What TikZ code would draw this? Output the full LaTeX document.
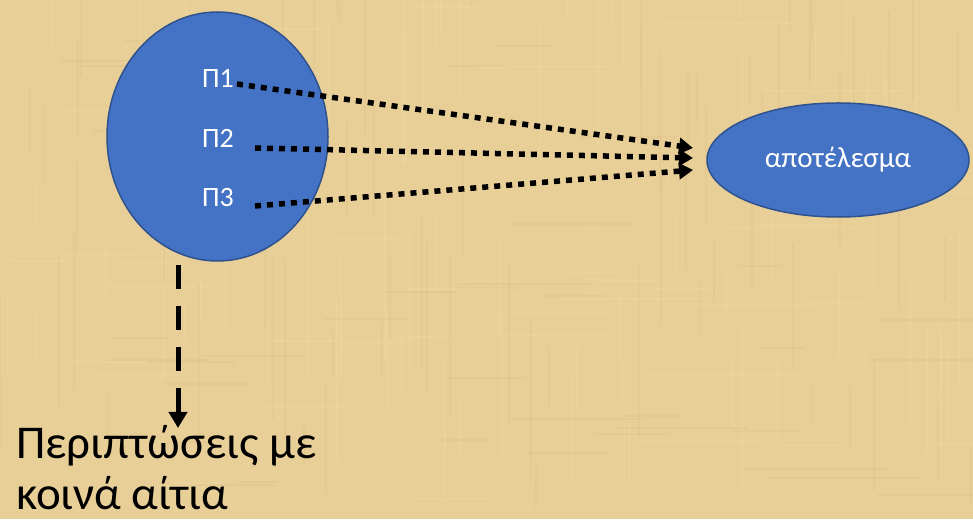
\documentclass[tikz,border=0pt]{standalone}
\usepackage{fontspec}
\setmainfont{Carlito}
\usetikzlibrary{arrows.meta,shapes.geometric}
\definecolor{papyrus}{HTML}{E8CF98}
\definecolor{papdark}{HTML}{D9B97A}
\definecolor{paplight}{HTML}{F2DDAE}
\definecolor{blobfill}{HTML}{4472C4}
\definecolor{blobline}{HTML}{2F528F}
\tikzset{
  blob/.style={ellipse,fill=blobfill,draw=blobline,line width=1.5pt,inner sep=0pt},
  plabel/.style={text=white,font=\fontsize{28}{32}\selectfont,inner sep=0pt},
  dotline/.style={line width=5.5pt,dash pattern=on 6pt off 6pt,-{Triangle[length=14pt,width=16pt]}},
  dashline/.style={line width=5pt,dash pattern=on 24pt off 17pt,-{Triangle[length=16pt,width=18pt]}},
  fibre/.style={line width=2pt,opacity=0.25},
}
\begin{document}
\begin{tikzpicture}[x=1pt,y=1pt]
\useasboundingbox (0,0) rectangle (973,519);
\begin{scope}
\clip (0,0) rectangle (973,519);
\fill[papyrus] (0,0) rectangle (973,519);
\pgfmathsetseed{7}
\foreach \i in {1,...,70}{
  \pgfmathsetmacro{\xx}{rnd*973}
  \pgfmathsetmacro{\yy}{rnd*519}
  \pgfmathsetmacro{\ll}{40+rnd*140}
  \draw[fibre,papdark] (\xx,\yy) -- ++(0,\ll);
  \pgfmathsetmacro{\xa}{rnd*973}
  \pgfmathsetmacro{\ya}{rnd*519}
  \draw[fibre,paplight] (\xa,\ya) -- ++(0,\ll);
}
\foreach \i in {1,...,40}{
  \pgfmathsetmacro{\xx}{rnd*973}
  \pgfmathsetmacro{\yy}{rnd*519}
  \pgfmathsetmacro{\ll}{40+rnd*120}
  \draw[fibre,papdark] (\xx,\yy) -- ++(\ll,0);
  \pgfmathsetmacro{\xa}{rnd*973}
  \pgfmathsetmacro{\ya}{rnd*519}
  \draw[fibre,paplight] (\xa,\ya) -- ++(\ll,0);
}
\end{scope}
\node[blob,minimum width=221pt,minimum height=249pt] (cause) at (217.5,382.5) {};
\node[blob,minimum width=262pt,minimum height=114pt,text=white,font=\fontsize{29}{34}\selectfont] (res) at (838,359) {αποτέλεσμα};
\node[plabel] (p1) at (218,440.5) {Π1};
\node[plabel] (p2) at (218,381) {Π2};
\node[plabel] (p3) at (218,321) {Π3};
\coordinate (s1) at (237,435);
\coordinate (s2) at (255,371);
\coordinate (s3) at (255,313);
\coordinate (e1) at (693,371);
\coordinate (e2) at (693,361);
\coordinate (e3) at (693,349);
\draw[dotline] (s1) -- (e1);
\draw[dotline] (s2) -- (e2);
\draw[dotline] (s3) -- (e3);
\coordinate (vs) at (178,254);
\node[anchor=base west,align=left,inner sep=0pt,font=\fontsize{47}{51}\selectfont] (cases) at (16,10) {Περιπτώσεις με\\κοινά αίτια};
\coordinate (ve) at (178,91);
\draw[dashline] (vs) -- (ve);
\end{tikzpicture}
\end{document}
